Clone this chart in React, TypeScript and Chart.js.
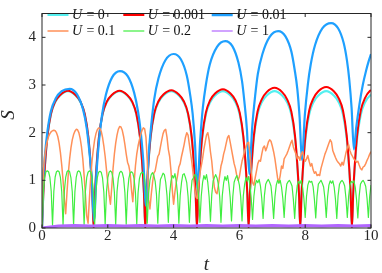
import React, { useEffect, useRef } from "react";
import { Chart, registerables } from "chart.js";

Chart.register(...registerables);

// ---------- DATA ----------
const seriesLabels = ["0", "0.001", "0.01", "0.1", "0.2", "1"];

// time grid of the U = 0 and U = 0.001 arches
const tArch = [
  0, 0.04, 0.08, 0.16, 0.27, 0.4, 0.55, 0.79, 1.02, 1.17, 1.3, 1.41, 1.49, 1.53,
  1.57, 1.61, 1.65, 1.73, 1.84, 1.97, 2.12, 2.36, 2.59, 2.74, 2.87, 2.98, 3.06, 3.1,
  3.14, 3.18, 3.22, 3.3, 3.41, 3.54, 3.69, 3.93, 4.16, 4.31, 4.44, 4.55, 4.63, 4.67,
  4.71, 4.75, 4.79, 4.87, 4.98, 5.11, 5.26, 5.5, 5.73, 5.88, 6.01, 6.12, 6.2, 6.24,
  6.28, 6.32, 6.36, 6.44, 6.55, 6.68, 6.83, 7.07, 7.3, 7.45, 7.58, 7.69, 7.77, 7.81,
  7.85, 7.89, 7.93, 8.01, 8.12, 8.25, 8.4, 8.64, 8.87, 9.02, 9.15, 9.26, 9.34, 9.38,
  9.42, 9.46, 9.5, 9.58, 9.69, 9.82, 9.97, 10,
];

const sU0 = [
  0, 0.72, 1.21, 1.89, 2.38, 2.64, 2.78, 2.87, 2.78, 2.64, 2.38, 1.89, 1.21, 0.72,
  0, 0.72, 1.21, 1.89, 2.38, 2.64, 2.78, 2.87, 2.78, 2.64, 2.38, 1.89, 1.21, 0.72,
  0, 0.72, 1.21, 1.89, 2.38, 2.64, 2.78, 2.87, 2.78, 2.64, 2.38, 1.89, 1.21, 0.72,
  0, 0.72, 1.21, 1.89, 2.38, 2.64, 2.78, 2.87, 2.78, 2.64, 2.38, 1.89, 1.21, 0.72,
  0, 0.72, 1.21, 1.89, 2.38, 2.64, 2.78, 2.87, 2.78, 2.64, 2.38, 1.89, 1.21, 0.72,
  0, 0.72, 1.21, 1.89, 2.38, 2.64, 2.78, 2.87, 2.78, 2.64, 2.38, 1.89, 1.21, 0.72,
  0, 0.72, 1.21, 1.89, 2.38, 2.64, 2.78, 2.79,
];

const sU0001 = [
  0, 0.72, 1.21, 1.9, 2.39, 2.65, 2.79, 2.88, 2.79, 2.65, 2.39, 1.9, 1.21, 0.72,
  0, 0.72, 1.21, 1.9, 2.39, 2.65, 2.79, 2.88, 2.79, 2.65, 2.39, 1.9, 1.21, 0.72,
  0, 0.72, 1.21, 1.91, 2.4, 2.66, 2.8, 2.89, 2.8, 2.66, 2.4, 1.91, 1.21, 0.72,
  0, 0.73, 1.22, 1.92, 2.42, 2.68, 2.82, 2.91, 2.82, 2.68, 2.42, 1.92, 1.22, 0.73,
  0, 0.74, 1.23, 1.94, 2.44, 2.7, 2.85, 2.94, 2.85, 2.7, 2.44, 1.94, 1.23, 0.74,
  0, 0.74, 1.24, 1.95, 2.46, 2.72, 2.87, 2.96, 2.87, 2.72, 2.46, 1.95, 1.24, 0.74,
  0, 0.74, 1.25, 1.96, 2.47, 2.73, 2.88, 2.89,
];

const tBlue = [
  0, 0.04, 0.08, 0.16, 0.27, 0.42, 0.6, 0.84, 1.06, 1.25, 1.36, 1.43, 1.51, 1.58,
  1.66, 1.74, 1.82, 1.94, 2.13, 2.37, 2.61, 2.8, 2.92, 3.0, 3.08, 3.16,
  3.24, 3.33, 3.41, 3.54, 3.75, 4.0, 4.22, 4.4, 4.5, 4.58, 4.65, 4.72,
  4.81, 4.89, 4.98, 5.1, 5.32, 5.57, 5.79, 5.97, 6.08, 6.15, 6.23, 6.3,
  6.39, 6.48, 6.56, 6.7, 6.92, 7.18, 7.4, 7.58, 7.68, 7.76, 7.83, 7.9,
  7.99, 8.08, 8.17, 8.3, 8.52, 8.79, 9.0, 9.17, 9.27, 9.34, 9.41, 9.48,
  9.55, 9.65, 9.75, 9.85, 9.93, 10,
];

const sU001 = [
  0, 1.0, 1.45, 2.0, 2.45, 2.72, 2.87, 2.92, 2.81, 2.48, 2.09, 1.67, 1.06, 0.15,
  1.19, 1.88, 2.35, 2.79, 3.16, 3.29, 3.18, 2.84, 2.44, 2.02, 1.4, 0.47,
  1.52, 2.22, 2.7, 3.14, 3.52, 3.65, 3.54, 3.2, 2.81, 2.39, 1.77, 0.84,
  1.86, 2.53, 3.0, 3.43, 3.8, 3.92, 3.81, 3.47, 3.08, 2.66, 2.05, 1.13,
  2.12, 2.78, 3.23, 3.65, 4.01, 4.13, 4.02, 3.7, 3.32, 2.92, 2.32, 1.43,
  2.38, 3.01, 3.44, 3.84, 4.19, 4.3, 4.19, 3.88, 3.51, 3.11, 2.52, 1.65,
  2.1, 2.6, 3.0, 3.3, 3.5, 3.65,
];

// fine time grid for U = 0.1 and U = 0.2
const tFine = [
  0, 0.04, 0.08, 0.12, 0.16, 0.2, 0.24, 0.28, 0.32, 0.36, 0.4, 0.44, 0.48, 0.52, 0.56, 0.6, 0.64, 0.68, 0.72, 0.76, 0.8, 0.84, 0.88, 0.92, 0.96,
  1, 1.04, 1.08, 1.12, 1.16, 1.2, 1.24, 1.28, 1.32, 1.36, 1.4, 1.44, 1.48, 1.52, 1.56, 1.6, 1.64, 1.68, 1.72, 1.76, 1.8, 1.84, 1.88, 1.92, 1.96,
  2, 2.04, 2.08, 2.12, 2.16, 2.2, 2.24, 2.28, 2.32, 2.36, 2.4, 2.44, 2.48, 2.52, 2.56, 2.6, 2.64, 2.68, 2.72, 2.76, 2.8, 2.84, 2.88, 2.92, 2.96,
  3, 3.04, 3.08, 3.12, 3.16, 3.2, 3.24, 3.28, 3.32, 3.36, 3.4, 3.44, 3.48, 3.52, 3.56, 3.6, 3.64, 3.68, 3.72, 3.76, 3.8, 3.84, 3.88, 3.92, 3.96,
  4, 4.04, 4.08, 4.12, 4.16, 4.2, 4.24, 4.28, 4.32, 4.36, 4.4, 4.44, 4.48, 4.52, 4.56, 4.6, 4.64, 4.68, 4.72, 4.76, 4.8, 4.84, 4.88, 4.92, 4.96,
  5, 5.04, 5.08, 5.12, 5.16, 5.2, 5.24, 5.28, 5.32, 5.36, 5.4, 5.44, 5.48, 5.52, 5.56, 5.6, 5.64, 5.68, 5.72, 5.76, 5.8, 5.84, 5.88, 5.92, 5.96,
  6, 6.04, 6.08, 6.12, 6.16, 6.2, 6.24, 6.28, 6.32, 6.36, 6.4, 6.44, 6.48, 6.52, 6.56, 6.6, 6.64, 6.68, 6.72, 6.76, 6.8, 6.84, 6.88, 6.92, 6.96,
  7, 7.04, 7.08, 7.12, 7.16, 7.2, 7.24, 7.28, 7.32, 7.36, 7.4, 7.44, 7.48, 7.52, 7.56, 7.6, 7.64, 7.68, 7.72, 7.76, 7.8, 7.84, 7.88, 7.92, 7.96,
  8, 8.04, 8.08, 8.12, 8.16, 8.2, 8.24, 8.28, 8.32, 8.36, 8.4, 8.44, 8.48, 8.52, 8.56, 8.6, 8.64, 8.68, 8.72, 8.76, 8.8, 8.84, 8.88, 8.92, 8.96,
  9, 9.04, 9.08, 9.12, 9.16, 9.2, 9.24, 9.28, 9.32, 9.36, 9.4, 9.44, 9.48, 9.52, 9.56, 9.6, 9.64, 9.68, 9.72, 9.76, 9.8, 9.84, 9.88, 9.92, 9.96,
  10,
];

const sU01 = [
  0, 1.2, 1.5, 1.7, 1.82, 1.92, 1.98, 2.02, 2.04, 2.05, 2.04, 2.0, 1.92, 1.78, 1.58, 1.32, 1.0, 0.6, 0.3, 0.75, 1.15, 1.45, 1.68, 1.85, 1.96,
  2.03, 2.07, 2.06, 2.0, 1.88, 1.7, 1.45, 1.1, 0.7, 0.25, 0.1, 0.6, 1.05, 1.4, 1.65, 1.85, 1.98, 2.06, 2.1, 2.09, 2.03, 1.9, 1.72, 1.5, 1.22,
  0.95, 0.7, 0.5, 0.85, 1.25, 1.55, 1.78, 1.95, 2.07, 2.13, 2.12, 2.05, 1.92, 1.75, 1.55, 1.38, 1.3, 1.15, 0.8, 0.55, 0.95, 1.3, 1.55, 1.72, 1.85,
  1.96, 2.05, 2.1, 2.08, 1.9, 1.4, 0.6, 0.4, 0.7, 0.95, 1.15, 1.2, 1.35, 1.5, 1.55, 1.7, 1.85, 1.98, 2.05, 2.07, 1.9, 1.65, 1.5, 1.2, 0.8,
  0.5, 0.75, 0.95, 1.1, 1.28, 1.35, 1.5, 1.62, 1.75, 1.9, 2.0, 1.95, 1.75, 1.55, 1.35, 1.1, 0.85, 0.65, 0.62, 0.9, 1.15, 1.3, 1.45, 1.65, 1.8,
  1.95, 2.0, 1.85, 1.6, 1.4, 1.1, 0.85, 0.75, 0.72, 0.9, 1.1, 1.3, 1.4, 1.55, 1.65, 1.78, 1.9, 1.94, 1.8, 1.65, 1.5, 1.35, 1.25, 1.1, 1.0,
  1.08, 1.25, 1.4, 1.5, 1.62, 1.7, 1.78, 1.8, 1.55, 1.2, 0.95, 0.9, 1.05, 1.2, 1.35, 1.42, 1.4, 1.55, 1.68, 1.72, 1.62, 1.7, 1.8, 1.85, 1.82,
  1.72, 1.6, 1.45, 1.25, 1.05, 0.95, 1.1, 1.3, 1.25, 1.45, 1.5, 1.55, 1.62, 1.7, 1.78, 1.84, 1.7, 1.62, 1.55, 1.45, 1.5, 1.42, 1.55, 1.6, 1.48,
  1.4, 1.45, 1.52, 1.4, 1.3, 1.35, 1.22, 1.15, 1.18, 1.1, 1.12, 1.1, 1.25, 1.35, 1.45, 1.55, 1.62, 1.7, 1.78, 1.85, 1.8, 1.62, 1.55, 1.48, 1.42,
  1.38, 1.35, 1.3, 1.38, 1.32, 1.45, 1.58, 1.68, 1.75, 1.62, 1.55, 1.5, 1.45, 1.42, 1.38, 1.4, 1.32, 1.25, 1.22, 1.28, 1.3, 1.35, 1.42, 1.48, 1.55,
  1.6,
];

const sU02 = [
  0, 0.77, 1.06, 1.18, 1.2, 1.18, 1.06, 0.77,
  0.06, 0.77, 1.07, 1.18, 1.2, 1.18, 1.06, 0.76,
  0.06, 0.78, 1.06, 1.18, 1.21, 1.18, 1.05, 0.76,
  0.06, 0.76, 1.06, 1.18, 1.2, 1.17, 1.05, 0.77,
  0.07, 0.77, 1.06, 1.17, 1.2, 1.18, 1.06, 0.76,
  0.06, 0.77, 1.05, 1.17, 1.19, 1.17, 1.05, 0.75,
  0.07, 0.76, 1.05, 1.17, 1.2, 1.17, 1.04, 0.75,
  0.07, 0.76, 1.04, 1.16, 1.19, 1.16, 1.04, 0.74,
  0.08, 0.75, 1.04, 1.16, 1.18, 1.15, 1.03, 0.74,
  0.08, 0.74, 1.03, 1.14, 1.17, 1.15, 1.02, 0.73,
  0.1, 0.72, 1.0, 1.12, 1.16, 1.1, 0.98, 0.7,
  0.1, 0.7, 1.02, 1.08, 1.15, 1.12, 0.96, 0.68,
  0.12, 0.72, 0.98, 1.1, 1.05, 1.14, 0.98, 0.7,
  0.1, 0.68, 0.95, 1.12, 1.14, 1.06, 0.95, 0.66,
  0.12, 0.7, 1.0, 1.05, 1.12, 1.1, 0.92, 0.68,
  0.12, 0.66, 0.95, 1.1, 1.02, 1.12, 0.95, 0.65,
  0.14, 0.7, 0.98, 1.06, 1.12, 1.05, 0.92, 0.66,
  0.12, 0.68, 0.94, 1.08, 1.0, 1.1, 0.92, 0.64,
  0.15, 0.66, 0.96, 1.04, 1.1, 1.02, 0.9, 0.65,
  0.15, 0.68, 0.92, 1.06, 0.98, 1.08, 0.9, 0.62,
  0.18, 0.66, 0.9, 1.0, 0.95, 1.02, 0.88, 0.62,
  0.2, 0.68, 0.92, 0.98, 1.02, 0.96, 0.88, 0.6,
  0.2, 0.65, 0.9, 1.0, 0.94, 1.0, 0.86, 0.62,
  0.22, 0.68, 0.92, 0.97, 1.0, 0.95, 0.88, 0.6,
  0.2, 0.66, 0.9, 0.98, 0.93, 1.0, 0.86, 0.62,
  0.22, 0.66, 0.9, 0.99, 0.96, 0.98, 0.87, 0.6,
  0.21, 0.67, 0.92, 0.96, 1.0, 0.94, 0.86, 0.62,
  0.22, 0.65, 0.9, 0.99, 0.94, 0.99, 0.86, 0.6,
  0.2, 0.68, 0.91, 0.97, 1.0, 0.96, 0.88, 0.62,
  0.22, 0.66, 0.9, 0.98, 0.95, 0.99, 0.86, 0.6,
  0.21, 0.67, 0.92, 0.97, 1.0, 0.95, 0.87, 0.62,
  0.22, 0.66, 0.9,
];

const tPurple = [0, 0.5, 1, 1.5, 2, 2.5, 3, 3.5, 4, 4.5, 5, 5.5, 6, 6.5, 7, 7.5, 8, 8.5, 9, 9.5, 10];
const sU1 = [0, 0.04, 0.05, 0.04, 0.05, 0.04, 0.05, 0.04, 0.05, 0.04, 0.05, 0.04, 0.05, 0.04, 0.05, 0.04, 0.05, 0.04, 0.05, 0.04, 0.05];

const xTickStep = 2;
const yTickStep = 1;
const xMin = 0, xMax = 10, yMin = 0, yMax = 4.5;

// ---------- STYLE ----------
const colors = ["#55f0f0", "#ff0000", "#1ea0ff", "#ff9058", "#40ee40", "#b266ff"];
const widths = [2.2, 2, 2.2, 1.5, 1.2, 3];
const legendWidths = [2, 2, 2.5, 1.5, 1.2, 1.2];
const AX = "#262626";
const SERIF = '"Liberation Serif", "Times New Roman", serif';

function pairs(t: number[], s: number[]) {
  return t.map((x, i) => ({ x, y: s[i] }));
}

const legendPlugin = {
  id: "mathLegend",
  afterDatasetsDraw(chart: any) {
    const ctx = chart.ctx;
    const slots = [
      [47.5, 15], [123.3, 15], [211.7, 15],
      [47.5, 31], [123.3, 31], [211.7, 31],
    ];
    ctx.save();
    seriesLabels.forEach((lab, i) => {
      const [x, y] = slots[i];
      ctx.strokeStyle = colors[i];
      ctx.lineWidth = legendWidths[i];
      ctx.beginPath();
      ctx.moveTo(x, y);
      ctx.lineTo(x + 21, y);
      ctx.stroke();
      ctx.fillStyle = "#111";
      ctx.textBaseline = "alphabetic";
      ctx.textAlign = "left";
      ctx.font = `italic 14px ${SERIF}`;
      const tx = x + 24.5;
      ctx.fillText("U", tx, y + 4.3);
      const uw = ctx.measureText("U").width;
      ctx.font = `14px ${SERIF}`;
      ctx.fillText(" = " + lab, tx + uw + 0.8, y + 4.3);
    });
    ctx.restore();
  },
};

const framePlugin = {
  id: "frameTicks",
  afterDraw(chart: any) {
    const { ctx, chartArea: a, scales } = chart;
    ctx.save();
    ctx.strokeStyle = AX;
    ctx.lineWidth = 1;
    ctx.strokeRect(a.left, a.top, a.right - a.left, a.bottom - a.top);
    const L = 3.5;
    ctx.beginPath();
    scales.x.ticks.forEach((tk: any) => {
      const px = scales.x.getPixelForValue(tk.value);
      ctx.moveTo(px, a.bottom);
      ctx.lineTo(px, a.bottom - L);
      ctx.moveTo(px, a.top);
      ctx.lineTo(px, a.top + L);
    });
    scales.y.ticks.forEach((tk: any) => {
      const py = scales.y.getPixelForValue(tk.value);
      ctx.moveTo(a.left, py);
      ctx.lineTo(a.left + L, py);
      ctx.moveTo(a.right, py);
      ctx.lineTo(a.right - L, py);
    });
    ctx.stroke();
    ctx.fillStyle = AX;
    ctx.font = `italic 19px ${SERIF}`;
    ctx.textAlign = "center";
    ctx.textBaseline = "alphabetic";
    ctx.fillText("t", (a.left + a.right) / 2, 270);
    ctx.translate(9, 115);
    ctx.rotate(-Math.PI / 2);
    ctx.textBaseline = "middle";
    ctx.fillText("S", 0, 0);
    ctx.restore();
  },
};

export default function App() {
  const ref = useRef<HTMLCanvasElement | null>(null);

  useEffect(() => {
    document.body.style.margin = "0";
    const canvas = ref.current;
    if (!canvas) return;
    const series = [
      pairs(tArch, sU0),
      pairs(tArch, sU0001),
      pairs(tBlue, sU001),
      pairs(tFine, sU01),
      pairs(tFine, sU02),
      pairs(tPurple, sU1),
    ];
    const smooth = [true, true, true, false, false, false];
    const chart = new Chart(canvas, {
      type: "line",
      data: {
        datasets: series.map((d, i) => ({
          label: "U = " + seriesLabels[i],
          data: d,
          borderColor: colors[i],
          backgroundColor: colors[i],
          borderWidth: widths[i],
          pointRadius: 0,
          fill: false,
          tension: 0,
          cubicInterpolationMode: smooth[i] ? "monotone" : "default",
          order: series.length - i,
          borderJoinStyle: "round",
        })),
      },
      options: {
        animation: false,
        responsive: false,
        devicePixelRatio: 1,
        layout: { padding: { left: 0, right: 11, top: 3, bottom: 0 } },
        plugins: { legend: { display: false }, tooltip: { enabled: false } },
        scales: {
          x: {
            type: "linear",
            min: xMin,
            max: xMax,
            grid: { display: false, drawTicks: false },
            border: { display: false },
            ticks: {
              stepSize: xTickStep,
              padding: 1,
              color: AX,
              maxRotation: 0,
              autoSkip: false,
              font: { family: SERIF, size: 15, lineHeight: 1 },
            },
            afterFit: (s: any) => {
              s.height = 45;
            },
          },
          y: {
            type: "linear",
            min: yMin,
            max: yMax,
            grid: { display: false, drawTicks: false },
            border: { display: false },
            ticks: {
              stepSize: yTickStep,
              includeBounds: false,
              padding: 6,
              color: AX,
              font: { family: SERIF, size: 15, lineHeight: 1 },
            },
            afterFit: (s: any) => {
              s.width = 42;
            },
          },
        },
      } as any,
      plugins: [legendPlugin, framePlugin],
    });
    return () => chart.destroy();
  }, []);

  return (
    <div style={{ width: 382, height: 273 }}>
      <canvas ref={ref} width={382} height={273} />
    </div>
  );
}
